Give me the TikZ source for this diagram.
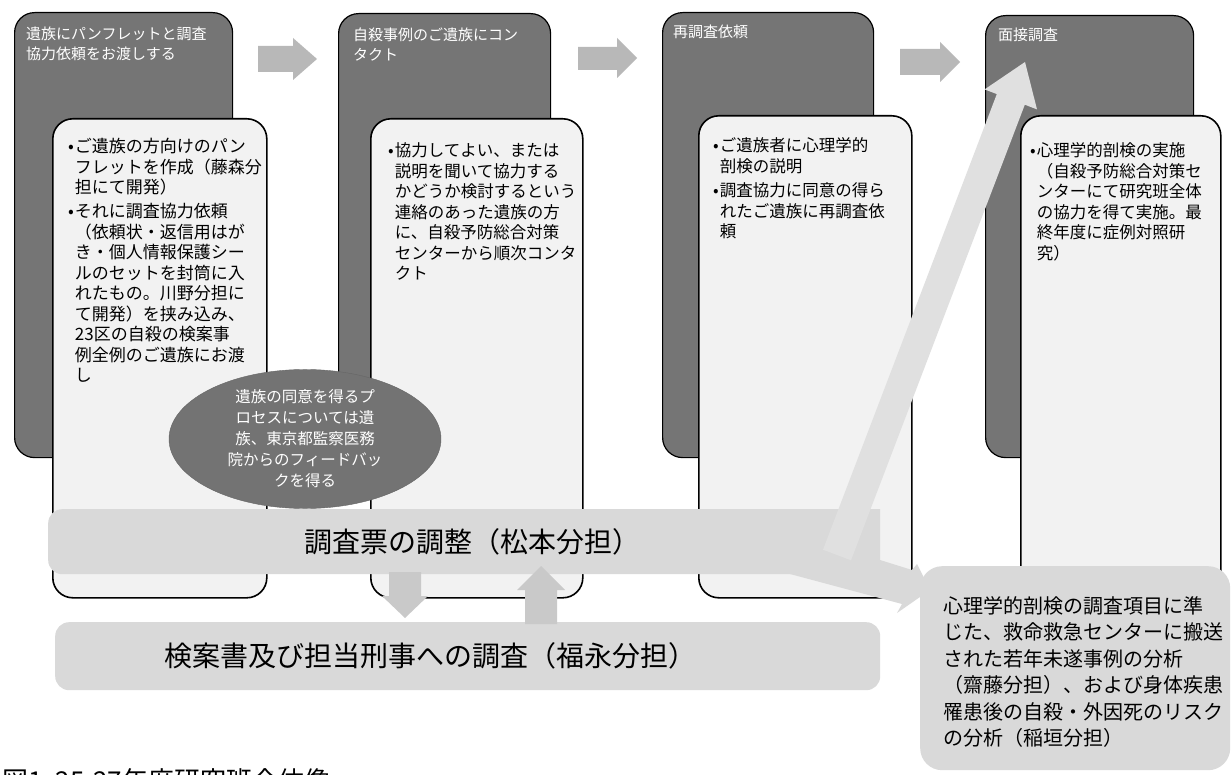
\documentclass[tikz,border=0pt]{standalone}
\usepackage{fontspec}
\setmainfont{Noto Sans CJK JP}
\usetikzlibrary{shapes.geometric}
\tikzset{
  darkbox/.style={draw=black, line width=1.2pt, fill=black!54, rounded corners=20pt, anchor=north west, inner sep=0pt},
  whitebox/.style={draw=black, line width=1.6pt, fill=black!5, rounded corners=20pt, anchor=north west, inner sep=0pt},
  hdr/.style={anchor=north west, inner sep=0pt, align=left, text=white, font=\fontsize{15}{20}\selectfont},
  body/.style={anchor=north west, inner sep=0pt, font=\fontsize{16.5}{20.5}\selectfont},
  blockarrow/.style={fill=black!28},
  lightarrow/.style={fill=black!14},
  vertarrow/.style={fill=black!21},
  bandbox/.style={fill=black!15, rounded corners=14pt, inner sep=0pt, anchor=north west},
  oval/.style={ellipse, fill=black!55, draw=black!60, text=white, align=center, inner sep=0pt, font=\fontsize{15.5}{21}\selectfont},
}
\begin{document}
\begin{tikzpicture}[x=1pt,y=-1pt]
\useasboundingbox (0,0) rectangle (1231,775);
\fill[white] (0,0) rectangle (1231,775);

% dark step boxes
\node[darkbox, minimum width=218, minimum height=445] (d1) at (14,12) {};
\node[darkbox, minimum width=212, minimum height=444] (d2) at (338,13) {};
\node[darkbox, minimum width=211, minimum height=445] (d3) at (662,12) {};
\node[darkbox, minimum width=208, minimum height=442] (d4) at (985,15) {};

\node[hdr] (h1) at (26,27) {遺族にパンフレットと調査\\協力依頼をお渡しする};
\node[hdr] (h2) at (353,28) {自殺事例のご遺族にコン\\タクト};
\node[hdr] (h3) at (673,25) {再調査依頼};
\node[hdr] (h4) at (998,28) {面接調査};

% block arrows between steps
\fill[blockarrow] (258,46) -- (293,46) -- (293,38) -- (317,59) -- (293,80) -- (293,72) -- (258,72) -- cycle;
\fill[blockarrow] (578,47) -- (617,47) -- (617,38) -- (637,58) -- (617,78) -- (617,70) -- (578,70) -- cycle;
\fill[blockarrow] (900,49) -- (940,49) -- (940,42) -- (960,62) -- (940,82) -- (940,75) -- (900,75) -- cycle;

% white detail boxes
\node[whitebox, minimum width=214, minimum height=479] (w1) at (52,118) {};
\node[whitebox, minimum width=212, minimum height=479] (w2) at (370,118) {};
\node[whitebox, minimum width=213, minimum height=482] (w3) at (698,115) {};
\node[whitebox, minimum width=200, minimum height=477] (w4) at (1020,115) {};

\node[body, font=\fontsize{17}{20.5}\selectfont] (t1) at (68,138) {\begin{tabular}{@{}l@{\hspace{1pt}}l@{}}
•&ご遺族の方向けのパン\\
 &フレットを作成（藤森分\\
 &担にて開発）\\[3pt]
•&それに調査協力依頼\\
 &（依頼状・返信用はが\\
 &き・個人情報保護シー\\
 &ルのセットを封筒に入\\
 &れたもの。川野分担に\\
 &て開発）を挟み込み、\\
 &23区の自殺の検案事\\
 &例全例のご遺族にお渡\\
 &し
\end{tabular}};

\node[body] (t2) at (388,142) {\begin{tabular}{@{}l@{\hspace{1pt}}l@{}}
•&協力してよい、または\\
 &説明を聞いて協力する\\
 &かどうか検討するという\\
 &連絡のあった遺族の方\\
 &に、自殺予防総合対策\\
 &センターから順次コンタ\\
 &クト
\end{tabular}};

\node[body] (t3) at (713,137) {\begin{tabular}{@{}l@{\hspace{1pt}}l@{}}
•&ご遺族者に心理学的\\
 &剖検の説明\\[4pt]
•&調査協力に同意の得ら\\
 &れたご遺族に再調査依\\
 &頼
\end{tabular}};

\node[body] (t4) at (1030,142) {\begin{tabular}{@{}l@{\hspace{1pt}}l@{}}
•&心理学的剖検の実施\\
 &（自殺予防総合対策セ\\
 &ンターにて研究班全体\\
 &の協力を得て実施。最\\
 &終年度に症例対照研\\
 &究）
\end{tabular}};

% feedback ellipse
\node[oval, minimum width=272, minimum height=136] (fb) at (305,439)
  {遺族の同意を得るプ\\ロセスについては遺\\族、東京都監察医務\\院からのフィードバッ\\クを得る};

% questionnaire band with bent arrow
\node[bandbox, minimum width=812, minimum height=65] (b1) at (48,509) {};
\fill[lightarrow, fill=black!15] (790,509) -- (880,509) -- (880,560) -- (912,570) -- (917,564) -- (930,590) -- (897,613) -- (902,604) -- (790,574) -- cycle;
\node[font=\fontsize{28}{30}\selectfont] (b1t) at (472,542) {調査票の調整（松本分担）};

% bottom band
\node[bandbox, minimum width=825, minimum height=68] (b2) at (55,622) {};
\node[font=\fontsize{28}{30}\selectfont] (b2t) at (430,656) {検案書及び担当刑事への調査（福永分担）};

% down / up arrows between bands
\fill[vertarrow] (389,572) -- (421,572) -- (421,596) -- (428,596) -- (405,618) -- (382,596) -- (389,596) -- cycle;
\fill[vertarrow] (525,624) -- (557,624) -- (557,590) -- (565,590) -- (541,566) -- (517,590) -- (525,590) -- cycle;

% right analysis box
\node[bandbox, rounded corners=22pt, minimum width=310, minimum height=204] (rb) at (920,566) {};
\node[anchor=north west, inner sep=0pt, align=left, font=\fontsize{20}{26.5}\selectfont] (rbt) at (943,596)
  {心理学的剖検の調査項目に準\\じた、救命救急センターに搬送\\された若年未遂事例の分析\\（齋藤分担）、および身体疾患\\罹患後の自殺・外因死のリスク\\の分析（稲垣分担）};

% diagonal arrow to interview step
\fill[lightarrow, fill=black!12] (823,549.7) -- (996.8,94.1) -- (984.6,89.4) -- (1025,62) -- (1037,109.4) -- (1024.8,104.7) -- (851,560.3) -- cycle;

% caption (cut at bottom, as in the reference)
\node[anchor=base west, inner sep=0pt, font=\fontsize{26}{28}\selectfont] (cap) at (2,790) {図1.\ 25-27年度研究班全体像};
\end{tikzpicture}
\end{document}
